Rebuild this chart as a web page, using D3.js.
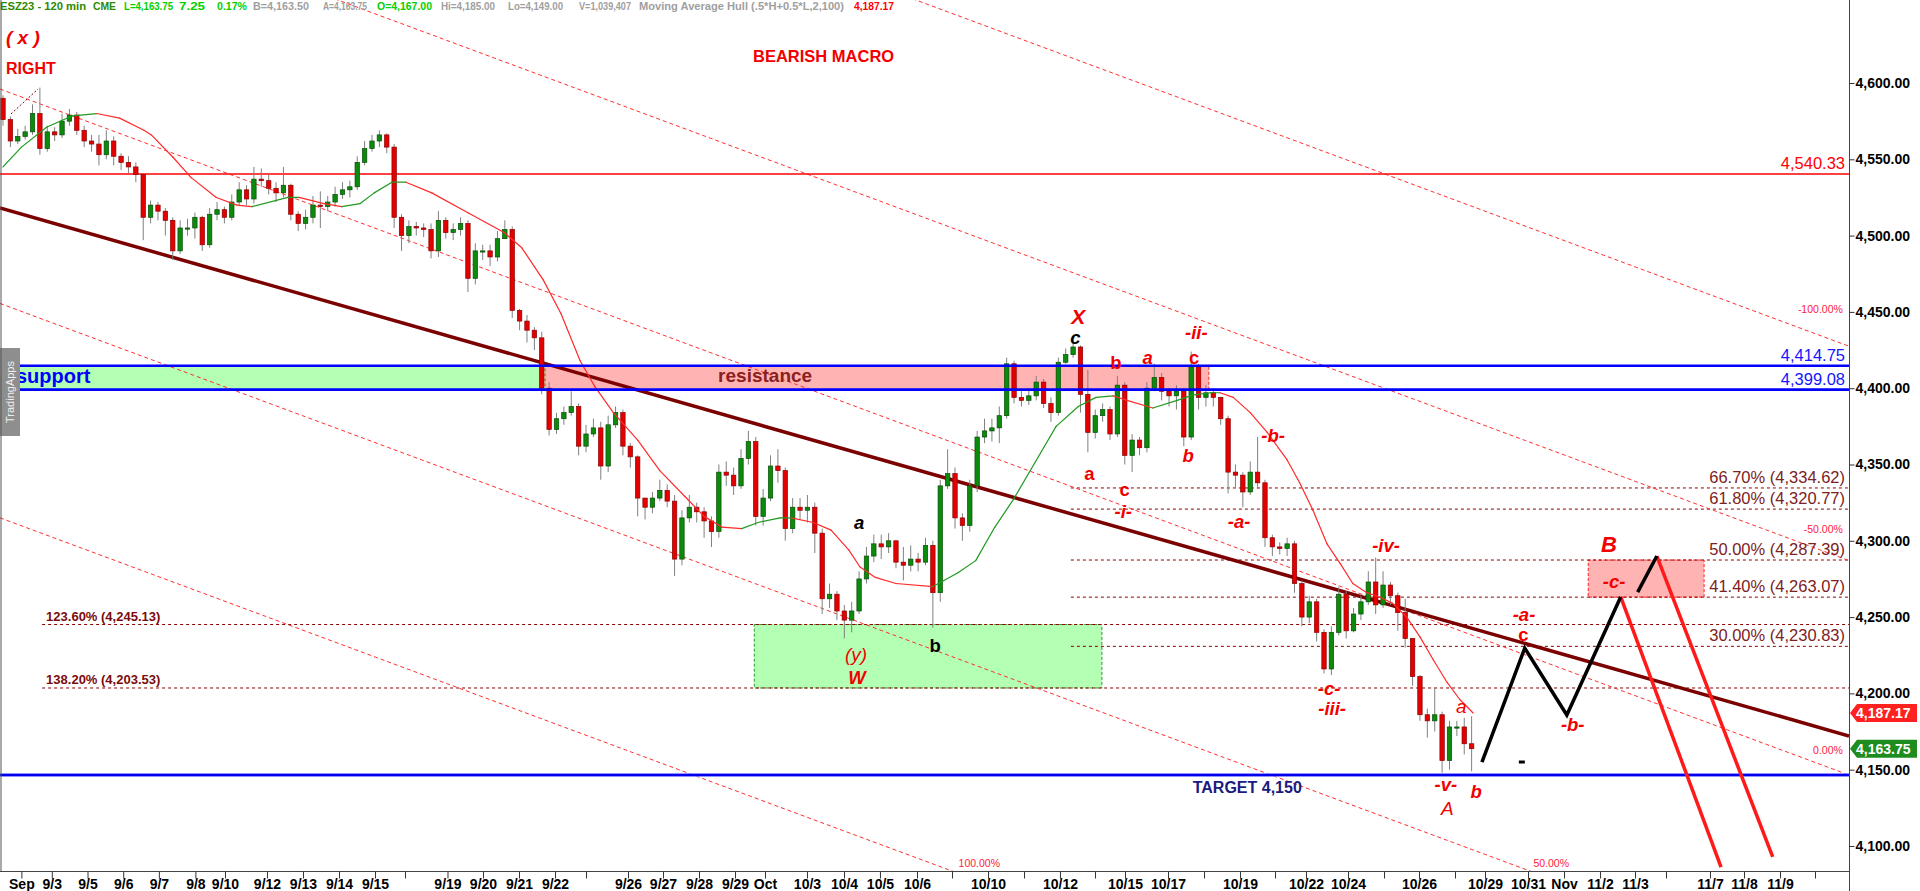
<!DOCTYPE html>
<html><head><meta charset="utf-8">
<script src="https://cdnjs.cloudflare.com/ajax/libs/d3/7.8.5/d3.min.js"></script>
<style>
body{margin:0;background:#fff;overflow:hidden}
svg{display:block}
text{font-family:Arial,"Liberation Sans",sans-serif}
</style></head>
<body><svg id="c" width="1920" height="891"></svg>
<script>
// ---------------- DATA ----------------
const firstOpen = 4590;
const closes = [
4576,4562,4565,4568,4580,4557,4568,4566,4575,4579,
4569,4562,4560,4553,4562,4552,4548,4545,4540,4512,
4520,4516,4510,4490,4505,4505,4512,4494,4514,4517,
4512,4522,4530,4524,4537,4536,4531,4528,4533,4514,
4508,4512,4520,4519,4522,4527,4530,4532,4548,4557,
4562,4566,4558,4512,4500,4506,4505,4504,4490,4510,
4502,4504,4508,4472,4490,4490,4486,4498,4504,4451,
4444,4438,4433,4400,4373,4380,4384,4388,4362,4370,
4374,4349,4376,4384,4362,4355,4328,4322,4328,4333,
4326,4288,4315,4322,4319,4313,4306,4345,4343,4336,
4354,4365,4316,4328,4349,4346,4308,4322,4320,4322,
4305,4262,4265,4254,4248,4254,4275,4290,4298,4296,
4300,4286,4284,4288,4286,4297,4266,4336,4344,4315,
4310,4336,4368,4372,4374,4382,4416,4394,4392,4395,
4404,4390,4384,4417,4422,4427,4396,4371,4382,4386,
4370,4402,4356,4366,4361,4400,4407,4398,4395,4398,
4368,4414,4394,4397,4394,4380,4345,4343,4332,4345,
4338,4302,4296,4295,4298,4272,4250,4260,4240,4216,
4240,4265,4241,4252,4260,4273,4258,4271,4264,4253,
4236,4211,4186,4182,4186,4156,4178,4178,4167,4163.75];
const highs = [
4592,4578,4570,4572,4586,4597,4572,4571,4580,4583,
4581,4572,4566,4566,4569,4565,4554,4552,4548,4541,
4523,4522,4518,4512,4510,4511,4515,4513,4518,4522,
4519,4527,4535,4533,4545,4544,4540,4535,4545,4534,
4516,4517,4526,4529,4526,4532,4535,4536,4552,4562,
4566,4569,4567,4560,4514,4510,4509,4508,4508,4516,
4512,4508,4512,4510,4495,4494,4494,4503,4510,4506,
4452,4448,4440,4437,4404,4384,4388,4398,4390,4376,
4380,4378,4382,4388,4386,4364,4356,4328,4332,4340,
4337,4330,4320,4330,4325,4322,4316,4350,4352,4348,
4360,4372,4368,4334,4356,4360,4348,4328,4328,4330,
4325,4308,4272,4267,4258,4260,4280,4296,4304,4304,
4305,4300,4296,4297,4292,4302,4300,4340,4360,4348,
4318,4340,4372,4380,4380,4388,4420,4418,4398,4400,
4408,4406,4394,4420,4426,4430,4428,4412,4386,4390,
4388,4408,4404,4370,4368,4404,4416,4410,4400,4402,
4400,4424,4416,4402,4400,4394,4382,4350,4345,4352,
4368,4340,4304,4299,4302,4300,4274,4264,4262,4242,
4244,4270,4267,4256,4264,4280,4289,4280,4273,4266,
4262,4236,4212,4190,4204,4188,4182,4182,4184,4185];
const lows = [
4572,4558,4560,4563,4566,4553,4555,4562,4564,4572,
4566,4558,4555,4546,4550,4546,4543,4541,4535,4497,
4508,4510,4500,4484,4488,4500,4498,4490,4492,4510,
4508,4510,4520,4520,4521,4532,4527,4522,4525,4510,
4503,4504,4508,4505,4516,4519,4524,4525,4530,4546,
4555,4558,4554,4505,4490,4495,4500,4499,4485,4486,
4498,4497,4500,4463,4468,4484,4480,4483,4498,4446,
4438,4430,4425,4396,4369,4370,4376,4382,4356,4358,
4368,4340,4345,4374,4356,4348,4316,4314,4318,4326,
4322,4277,4284,4312,4312,4302,4296,4302,4336,4330,
4334,4350,4310,4310,4326,4338,4300,4305,4314,4312,
4292,4252,4256,4248,4236,4240,4252,4272,4286,4288,
4292,4282,4274,4280,4280,4284,4243,4260,4334,4308,
4300,4306,4332,4364,4365,4364,4380,4390,4388,4389,
4392,4387,4378,4382,4416,4420,4384,4358,4367,4378,
4366,4368,4350,4345,4356,4358,4398,4392,4388,4386,
4362,4366,4386,4388,4388,4376,4331,4335,4322,4330,
4334,4296,4290,4291,4290,4266,4244,4246,4234,4213,
4212,4238,4236,4240,4248,4258,4252,4256,4258,4241,
4230,4205,4182,4171,4175,4148,4150,4172,4160,4149];

// Hull moving average (slot, value)
const maSlots = [0,2.5,5.9,9.4,12.7,15.8,19.1,20.1,23.0,25.5,28.9,31.7,33.7,38.6,40.1,43.5,45.9,48.4,50.3,52.7,54.6,58.1,63.0,67.9,70.3,73.2,75.6,78.2,80.2,82.7,86.0,89.0,92.4,95.0,97.4,100.1,102.3,105.3,106.8,109.8,112.2,114.6,116.1,118.2,121.0,126.0,129.4,131.8,134.4,136.9,139.8,142.7,145.7,148.1,150.4,152.3,155.8,159.1,161.2,163.6,164.9,166.7,169.0,171.3,174.0,175.7,177.5,179.4,181.2,182.9,184.8,186.6,188.3,190.2,192.0,193.8,195.7,197.4,199.2];
const maValues = [4545,4558,4571,4578.5,4580,4577,4569,4566,4551.5,4538,4525,4520,4519,4525,4525,4521,4519,4521,4528,4535,4535,4528,4515,4502,4492,4471,4449,4418,4401,4384,4366,4346,4329,4316,4309,4308,4312,4315,4315,4312,4307,4294,4283,4276,4272,4270,4279,4287,4309,4327,4351,4375,4388,4394,4395,4392,4387,4392,4395.5,4397,4397,4394,4384,4371,4353,4338,4320,4298,4285,4272,4266,4263,4259,4250,4237,4222,4207,4196,4187.17];

// axis ticks
const yTicks = [4100,4150,4200,4250,4300,4350,4400,4450,4500,4550,4600];
const xTickSlots = [2.49,6.61,11.45,16.29,21.12,26.07,30.08,35.77,40.65,45.53,50.41,54.47,60.23,65.04,69.92,74.80,79.0,84.69,89.43,94.31,99.19,103.25,108.94,113.96,118.83,123.85,128.59,133.47,138.35,143.22,147.97,152.03,157.86,162.74,167.62,172.36,176.56,182.25,187.13,191.87,196.75,200.81,206.64,211.52,216.40,221.14,225.34,231.3,235.91,240.79,245.53];
const xTickLabels = ["Sep","9/3","9/5","9/6","9/7","9/8","9/10","9/12","9/13","9/14","9/15","","9/19","9/20","9/21","9/22","","9/26","9/27","9/28","9/29","Oct","10/3","10/4","10/5","10/6","","10/10","","10/12","","10/15","10/17","","10/19","","10/22","10/24","","10/26","","10/29","10/31","Nov","11/2","11/3","","11/7","11/8","11/9",""];

// horizontal levels
const redLevel = 4540.33;
const blueLevels = [4414.75, 4399.08];
const targetLevel = 4146.5;
const fibLevels = [4334.62, 4320.77, 4287.39, 4263.07, 4230.83];
const fibLabels = ["66.70% (4,334.62)","61.80% (4,320.77)","50.00% (4,287.39)","41.40% (4,263.07)","30.00% (4,230.83)"];
const fibStartSlot = 144.7;
const extLevels = [4245.13, 4203.53];
const extLabels = ["123.60% (4,245.13)","138.20% (4,203.53)"];
const extStartSlot = 5.3;

// trend line & channel
const trendSlots = [-0.41, 250.14];
const trendPrices = [4518.1, 4172.1];
const channelSlots = [-0.41, 250.14];
const channelBase = [4596.05, 4146.5];
const channelLevels = [-100, -50, 0, 50, 100];
const channelStep = 140.5;
const channelLabels = ["-100.00%","-50.00%","0.00%","50.00%","100.00%"];
const channelLabelSlots = [249.3, 249.3, 249.3, 212.2, 135.1];
const channelLabelPrices = [4449.3, 4305.1, 4160.1, 4086.2, 4086.2];
const anchorSlots = [1.08, 4.74];
const anchorPrices = [4579.7, 4596];

// zones [slot0, slot1, price0, price1]
const supportZone = [-1, 73.44, 4399.08, 4414.75];
const resistanceZone = [73.44, 163.4, 4399.08, 4414.75];
const wZone = [101.8, 148.9, 4203.53, 4245.13];
const bZone = [214.8, 230.5, 4263.07, 4287.39];

// forecast paths
const fcBlack1Slots = [200.4, 206.2, 211.9, 219.2];
const fcBlack1Prices = [4155.0, 4229.7, 4185.8, 4263.2];
const fcBlack2Slots = [221.5, 224.1];
const fcBlack2Prices = [4266.4, 4290.0];
const fcRed1Slots = [219.2, 232.8];
const fcRed1Prices = [4263.2, 4086.2];
const fcRed2Slots = [224.1, 239.8];
const fcRed2Prices = [4290.0, 4092.8];

// wave labels
const waveText  = ["X","c","b","a","-ii-","c","a","b","c","-i-","-b-","-a-","-iv-","-c-","-iii-","a","-v-","A","b","a","b","(y)","W","B","-c-","-a-","c","-b-"];
const waveSlot  = [145.7,145.3,150.8,155.1,161.7,161.4,147.2,160.6,152.0,151.8,172.1,167.5,187.4,179.7,180.1,197.6,195.5,195.7,199.6,116.0,126.3,115.6,115.7,217.6,218.3,206.1,206.0,212.7];
const wavePrice = [4446.6,4433.5,4416.5,4419.8,4436.8,4420.4,4344.4,4356.2,4333.9,4318.9,4369.3,4312.3,4297.2,4203.5,4189.8,4191.7,4140.0,4124.9,4135.4,4311.7,4231.1,4225.8,4210.7,4297.9,4273.0,4252.0,4238.3,4179.9];
const waveStyle = ["big","kI","r","rI","rI","r","r","rI","r","rI","rI","rI","rI","rI","rI","rIn","rI","rIn","rI","kI","k","rIn","rI","bigB","rI","rI","r","rI"];

const lastPrice = 4163.75;
const maLast = 4187.17;

// ---------------- CHART ----------------
const svg = d3.select("#c");
const W = 1920, H = 891, plotR = 1849, plotB = 871;
const x = d3.scaleLinear().domain([0, 250]).range([3, 1848]);
const y = d3.scaleLinear().domain([4083.6, 4654.4]).range([plotB, 0]);
const RED = "#f20000";

svg.append("defs").append("clipPath").attr("id","plot")
  .append("rect").attr("x",0).attr("y",0).attr("width",plotR).attr("height",plotB);
const g = svg.append("g").attr("clip-path","url(#plot)");

function zone(z, fill, stroke){
  const r = g.append("rect").attr("x",x(z[0])).attr("y",y(z[3]))
    .attr("width",x(z[1])-x(z[0])).attr("height",y(z[2])-y(z[3])).attr("fill",fill);
  if (stroke) r.attr("stroke",stroke).attr("stroke-width",1).attr("stroke-dasharray","3,2");
}
zone(supportZone, "#b3ffb3", null);
zone(resistanceZone, "#ffb3b3", "#ff2020");
zone(wZone, "#b3ffb3", "#2a9a2a");
zone(bZone, "#ffb3b3", "#ff2020");

// fib retracement lines
fibLevels.forEach(v => g.append("line").attr("x1",x(fibStartSlot)).attr("x2",plotR)
  .attr("y1",y(v)).attr("y2",y(v)).attr("stroke","#8b0000").attr("stroke-dasharray","3,3"));
extLevels.forEach(v => g.append("line").attr("x1",x(extStartSlot)).attr("x2",plotR)
  .attr("y1",y(v)).attr("y2",y(v)).attr("stroke","#8b0000").attr("stroke-dasharray","3,3"));

// channel lines
channelLevels.forEach(l => {
  const off = -l/50*channelStep;
  g.append("line").attr("x1",x(channelSlots[0])).attr("x2",x(channelSlots[1]))
   .attr("y1",y(channelBase[0]+off)).attr("y2",y(channelBase[1]+off))
   .attr("stroke","#ff3030").attr("stroke-width",1).attr("stroke-dasharray","4,3");
});
g.append("line").attr("x1",x(anchorSlots[0])).attr("x2",x(anchorSlots[1]))
  .attr("y1",y(anchorPrices[0])).attr("y2",y(anchorPrices[1]))
  .attr("stroke","#800000").attr("stroke-dasharray","2,2");

// red level
g.append("line").attr("x1",0).attr("x2",plotR).attr("y1",y(redLevel)).attr("y2",y(redLevel))
  .attr("stroke","#ff0000").attr("stroke-width",1.5);

// trend line
g.append("line").attr("x1",x(trendSlots[0])).attr("x2",x(trendSlots[1]))
  .attr("y1",y(trendPrices[0])).attr("y2",y(trendPrices[1]))
  .attr("stroke","#7b0000").attr("stroke-width",3.5);

// candles
const cg = g.append("g");
closes.forEach((c,i) => {
  const o = i ? closes[i-1] : firstOpen;
  const up = c >= o;
  const cx = x(i);
  cg.append("line").attr("x1",cx).attr("x2",cx).attr("y1",y(highs[i])).attr("y2",y(lows[i]))
    .attr("stroke","#808080").attr("stroke-width",1);
  const top = y(Math.max(o,c)), bot = y(Math.min(o,c));
  cg.append("rect").attr("x",cx-2.2).attr("width",4.4).attr("y",top).attr("height",Math.max(1.2,bot-top))
    .attr("fill", up ? "#0c8a0c" : "#e40000")
    .attr("stroke", up ? "#064d06" : "#8a0000").attr("stroke-width",0.7);
});

// moving average
for (let i=1, prevUp=true; i<maSlots.length; i++){
  let up = maValues[i] > maValues[i-1] ? true : (maValues[i] < maValues[i-1] ? false : prevUp);
  prevUp = up;
  g.append("line").attr("x1",x(maSlots[i-1])).attr("x2",x(maSlots[i]))
   .attr("y1",y(maValues[i-1])).attr("y2",y(maValues[i]))
   .attr("stroke", up ? "#1f9a1f" : "#ff2a2a").attr("stroke-width",1.2).attr("stroke-linecap","round");
}

// blue lines
blueLevels.forEach(v => g.append("line").attr("x1",0).attr("x2",plotR).attr("y1",y(v)).attr("y2",y(v))
  .attr("stroke","#0000ff").attr("stroke-width",2.6));
g.append("line").attr("x1",0).attr("x2",plotR).attr("y1",y(targetLevel)).attr("y2",y(targetLevel))
  .attr("stroke","#6f6fff").attr("stroke-width",3.6);
g.append("line").attr("x1",0).attr("x2",plotR).attr("y1",y(targetLevel)).attr("y2",y(targetLevel))
  .attr("stroke","#0000ee").attr("stroke-width",2);

// forecast paths
const ln = d3.line().x(d=>x(d[0])).y(d=>y(d[1]));
function path(s,p,col,w){ g.append("path").attr("d",ln(s.map((v,i)=>[v,p[i]])))
  .attr("fill","none").attr("stroke",col).attr("stroke-width",w).attr("stroke-linejoin","miter"); }
path(fcRed1Slots, fcRed1Prices, "#ff1a1a", 3.5);
path(fcRed2Slots, fcRed2Prices, "#ff1a1a", 3.5);
path(fcBlack1Slots, fcBlack1Prices, "#000", 3.5);
path(fcBlack2Slots, fcBlack2Prices, "#000", 3.5);
g.append("rect").attr("x",x(205.4)).attr("y",y(4156)).attr("width",6).attr("height",3).attr("fill","#000");

// text annotations
const tg = svg.append("g");
const rx = plotR - 4;
tg.append("text").attr("x",rx).attr("y",y(redLevel)-5.5).attr("text-anchor","end")
  .attr("font-size",16.5).attr("fill","#ff0000").text("4,540.33");
blueLevels.forEach(v => tg.append("text").attr("x",rx).attr("y",y(v)-5).attr("text-anchor","end")
  .attr("font-size",16.5).attr("fill","#1515ff").text(d3.format(",.2f")(v)));
fibLevels.forEach((v,i) => tg.append("text").attr("x",rx).attr("y",y(v)-5).attr("text-anchor","end")
  .attr("font-size",16.5).attr("fill","#7d2222").text(fibLabels[i]));
extLevels.forEach((v,i) => tg.append("text").attr("x",x(extStartSlot)+4).attr("y",y(v)-4).attr("text-anchor","start")
  .attr("font-size",13).attr("font-weight","bold").attr("fill","#7a0c0c").text(extLabels[i]));
channelLabels.forEach((t,i) => tg.append("text").attr("x",x(channelLabelSlots[i])).attr("y",y(channelLabelPrices[i]))
  .attr("text-anchor","end").attr("font-size",10.5).attr("fill","#ff2040").text(t));

// zone labels
tg.append("text").attr("x",x(1.76)).attr("y",y(4403.4)).attr("font-size",20).attr("font-weight","bold")
  .attr("fill","#0000ff").text("support");
tg.append("text").attr("x",x(96.9)).attr("y",y(4404.0)).attr("font-size",19).attr("font-weight","bold")
  .attr("fill","#8b2020").text("resistance");
tg.append("text").attr("x",x(168.6)).attr("y",y(4138.6)).attr("dy","0.35em").attr("text-anchor","middle")
  .attr("font-size",16).attr("font-weight","bold").attr("fill","#1a1a80").text("TARGET 4,150");

// wave labels
const styles = {
  big:{c:RED,s:21,w:"bold",i:"italic"}, bigB:{c:RED,s:22,w:"bold",i:"italic"},
  r:{c:RED,s:18.5,w:"bold",i:"normal"}, rI:{c:RED,s:18.5,w:"bold",i:"italic"},
  rIn:{c:RED,s:19,w:"normal",i:"italic"}, k:{c:"#000",s:18.5,w:"bold",i:"normal"},
  kI:{c:"#000",s:18.5,w:"bold",i:"italic"}
};
waveText.forEach((t,i) => { const st = styles[waveStyle[i]];
  tg.append("text").attr("x",x(waveSlot[i])).attr("y",y(wavePrice[i])).attr("dy","0.35em")
    .attr("text-anchor","middle").attr("font-size",st.s).attr("font-weight",st.w)
    .attr("font-style",st.i).attr("fill",st.c).text(t); });

// top-left texts
tg.append("text").attr("x",6).attr("y",44).attr("font-size",19).attr("font-weight","bold")
  .attr("font-style","italic").attr("fill",RED).attr("xml:space","preserve").text("( x )");
tg.append("text").attr("x",6).attr("y",74).attr("font-size",16).attr("font-weight","bold").attr("fill",RED).text("RIGHT");
tg.append("text").attr("x",753).attr("y",62).attr("font-size",16.5).attr("font-weight","bold").attr("fill",RED).text("BEARISH MACRO");

// header
const headerText = ["ESZ23 - 120 min","CME","L=4,163.75","7.25","0.17%","B=4,163.50","A=4,163.75","O=4,167.00","Hi=4,185.00","Lo=4,149.00","V=1,039,407","Moving Average Hull (.5*H+0.5*L,2,100)","4,187.17"];
const headerX = [0,93,124,179,217,253,323,377,441,508,579,639,854];
const headerW = [86,23,49,26,30,56,44,55,54,55,52,205,40];
const headerC = ["#2c8a00","#2c8a00","#00d000","#00d000","#00d000","#a0a0a0","#a0a0a0","#00d000","#a0a0a0","#a0a0a0","#a0a0a0","#a0a0a0","#ff0000"];
headerText.forEach((t,i) => tg.append("text").attr("x",headerX[i]).attr("y",10).attr("font-size",11)
  .attr("font-weight","bold").attr("fill",headerC[i]).attr("textLength",headerW[i])
  .attr("lengthAdjust","spacingAndGlyphs").text(t));

// TradingApps tab
tg.append("rect").attr("x",0).attr("y",348).attr("width",20).attr("height",88).attr("fill","#8e8e8e");
tg.append("text").attr("transform","translate(14,392) rotate(-90)").attr("text-anchor","middle")
  .attr("font-size",11).attr("fill","#f0f0f0").text("TradingApps");

// frame
svg.append("line").attr("x1",1).attr("x2",1).attr("y1",0).attr("y2",plotB).attr("stroke","#555");
svg.append("line").attr("x1",0).attr("x2",plotR).attr("y1",plotB+0.5).attr("y2",plotB+0.5).attr("stroke","#444");
svg.append("line").attr("x1",plotR+0.5).attr("x2",plotR+0.5).attr("y1",0).attr("y2",H).attr("stroke","#444");

// axes
const yAx = svg.append("g").attr("transform",`translate(${plotR+0.5},0)`)
  .call(d3.axisRight(y).tickValues(yTicks).tickFormat(d3.format(",.2f")).tickSize(5).tickPadding(1));
yAx.select(".domain").remove();
yAx.selectAll("line").attr("stroke","#333");
yAx.selectAll("text").attr("font-size",14).attr("font-weight","bold").attr("fill","#000")
  .attr("font-family","Arial, 'Liberation Sans', sans-serif");

const xAx = svg.append("g").attr("transform",`translate(0,${plotB+0.5})`)
  .call(d3.axisBottom(x).tickValues(xTickSlots).tickFormat((d,i)=>xTickLabels[i]).tickSize(7).tickPadding(1));
xAx.select(".domain").remove();
xAx.selectAll("line").attr("stroke","#333");
xAx.selectAll("text").attr("font-size",14).attr("font-weight","bold").attr("fill","#000")
  .attr("font-family","Arial, 'Liberation Sans', sans-serif");

// price tags
function tag(v, fill){
  const yc = y(v);
  svg.append("path").attr("d",`M${plotR+1},${yc} L${plotR+8},${yc-9} L1917,${yc-9} L1917,${yc+9} L${plotR+8},${yc+9} Z`)
    .attr("fill",fill);
  svg.append("text").attr("x",plotR+7).attr("y",yc).attr("dy","0.36em").attr("font-size",14)
    .attr("font-weight","bold").attr("fill","#fff").text(d3.format(",.2f")(v));
}
tag(maLast, "#ff2020");
tag(lastPrice, "#1e8c1e");
</script></body></html>
